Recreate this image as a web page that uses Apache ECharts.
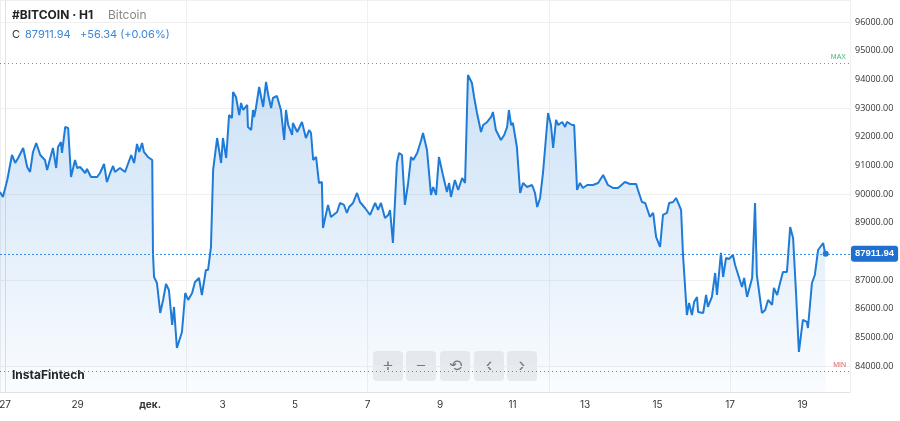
<!DOCTYPE html>
<html><head><meta charset="utf-8">
<script src="https://cdn.jsdelivr.net/npm/echarts@6/dist/echarts.min.js"></script>
<style>html,body{margin:0;padding:0;background:#fff}#c{width:900px;height:421px}</style>
</head><body><div id="c"></div>
<script>
// days since 27 Nov 00:00
const days = [-0.14,-0.06,0.06,0.11,0.19,0.28,0.36,0.50,0.61,0.69,0.77,0.86,0.97,1.10,1.16,1.32,1.41,1.46,1.54,1.57,1.66,1.74,1.82,1.93,1.99,2.07,2.21,2.26,2.37,2.54,2.62,2.73,2.81,2.90,2.98,3.03,3.17,3.31,3.48,3.56,3.64,3.70,3.78,3.83,3.94,4.06,4.08,4.11,4.19,4.28,4.36,4.44,4.52,4.61,4.66,4.74,4.88,4.97,5.05,5.16,5.24,5.35,5.43,5.54,5.60,5.68,5.74,5.85,5.96,6.01,6.10,6.18,6.26,6.29,6.37,6.46,6.51,6.57,6.68,6.70,6.79,6.84,6.87,6.92,7.01,7.12,7.20,7.26,7.34,7.39,7.50,7.61,7.70,7.75,7.81,7.92,7.94,8.06,8.19,8.30,8.39,8.44,8.50,8.58,8.66,8.74,8.77,8.86,8.91,8.99,9.16,9.24,9.35,9.43,9.49,9.60,9.71,9.79,9.93,10.07,10.21,10.29,10.37,10.48,10.57,10.62,10.70,10.81,10.87,10.95,11.03,11.12,11.20,11.26,11.37,11.48,11.53,11.64,11.75,11.81,11.89,11.97,12.08,12.19,12.25,12.30,12.41,12.50,12.61,12.69,12.77,12.88,12.94,13.02,13.05,13.13,13.19,13.30,13.41,13.46,13.54,13.68,13.77,13.85,13.90,13.96,14.01,14.12,14.21,14.29,14.40,14.54,14.62,14.68,14.76,14.84,14.98,15.06,15.12,15.20,15.26,15.37,15.45,15.50,15.64,15.70,15.78,15.86,15.94,16.06,16.22,16.36,16.50,16.63,16.77,16.91,17.10,17.24,17.41,17.46,17.57,17.66,17.79,17.88,17.96,18.07,18.15,18.26,18.32,18.43,18.51,18.57,18.65,18.70,18.81,18.87,18.95,19.01,19.09,19.12,19.26,19.34,19.39,19.50,19.59,19.64,19.75,19.81,19.89,19.97,20.08,20.14,20.19,20.33,20.39,20.47,20.52,20.61,20.69,20.74,20.88,20.97,21.05,21.16,21.21,21.30,21.38,21.46,21.57,21.66,21.74,21.82,21.90,22.01,22.12,22.15,22.26,22.34,22.43,22.57,22.62,22.64];
const prices = [90070,89896,90489,90558,91361,91082,91256,91605,90942,90768,91465,91779,91361,91186,90838,91605,90907,91640,91814,91430,92337,92302,90593,91186,90907,90942,90733,90872,90593,90593,90733,91047,90419,90733,90977,90768,90907,90768,91361,91082,91744,91465,91779,91465,91291,91186,87943,87105,86896,85850,86303,86861,86652,85431,86059,84629,85187,86547,86303,86547,86931,87070,86477,87349,87349,88149,90838,91953,91082,91953,91256,92756,92651,93558,93384,92756,93174,92930,93105,92337,92232,92930,92686,93000,93732,93035,93907,93453,93000,93349,93419,92930,91884,92930,92407,92058,92477,92163,92512,91953,92232,92128,91186,91291,90384,90419,88814,89338,89617,89198,89373,89687,89617,89338,89547,89687,90035,89721,89512,89268,89687,89442,89687,89163,89268,89442,88291,91082,91430,91361,89617,90384,91291,91186,91430,91884,92128,91535,89965,90244,89965,91291,90663,90070,90384,89896,90489,90140,90558,90384,94151,93872,93384,92826,92861,92163,92407,92512,92686,92861,92232,91884,92058,92337,92930,92407,92477,91640,90035,90384,90244,90314,90035,89547,89861,90733,92826,92407,91605,92582,92407,92512,92337,92512,92407,92407,90140,90384,90210,90314,90314,90384,90663,90314,90210,90210,90419,90349,90349,90140,89721,89687,89198,89338,88500,88152,89268,89338,89687,89721,89861,89687,89442,87943,85780,86198,85780,86233,86408,85884,85850,86477,86059,86408,87245,86477,87943,87105,87768,87733,87873,87524,87489,86756,87070,86408,86477,87070,89687,87175,85850,85954,86303,86129,86722,86477,86896,87279,87279,88849,88465,86582,84490,85606,85536,85326,86896,87175,88047,88291,87943,87911.94];
const dayTicks = [0,2,4,6,8,10,12,14,16,18,20,22];
const dayLabels = ['27','29','дек.','3','5','7','9','11','13','15','17','19'];
const priceTicks = [84000,85000,86000,87000,88000,89000,90000,91000,92000,93000,94000,95000,96000];
const lastPrice = 87911.94, maxLine = 94570, minLine = 83826;

const chart = echarts.init(document.getElementById('c'));
const F = 'Inter, "Noto Sans", sans-serif';
const btnX = [373, 406, 440, 474, 507];
const btnTxt = ['+', '−', '⟲', '‹', '›'];
const graphics = [
  {type:'text', left:12, top:9, style:{text:'#BITCOIN · H1', font:'bold 12px '+F, fill:'#222'}},
  {type:'text', left:108, top:9, style:{text:'Bitcoin', font:'12px '+F, fill:'#888'}},
  {type:'text', left:12, top:29, style:{text:'C', font:'11px '+F, fill:'#333'}},
  {type:'text', left:25, top:29, style:{text:'87911.94   +56.34 (+0.06%)', font:'11px '+F, fill:'#3a86d6'}},
  {type:'text', left:12, top:369, style:{text:'InstaFintech', font:'bold 12px '+F, fill:'#222'}}
];
btnX.forEach((x,i)=>{
  graphics.push({type:'rect', shape:{x:x, y:351, width:30, height:30, r:4}, style:{fill:'rgba(235,235,235,0.85)'}});
  graphics.push({type:'text', x:x+15, y:366, style:{text:btnTxt[i], font:(i==2?'16px ':'18px ')+F, fill:'#777', align:'center', verticalAlign:'middle'}});
});
chart.setOption({
  animation:false,
  grid:{left:0, right:50, top:0, bottom:29, outerBoundsMode:'none', containLabel:false},
  xAxis:{type:'value', min:-0.14, max:23.31,
    axisLine:{show:true, lineStyle:{color:'#e2e2e2'}}, axisTick:{show:false},
    axisLabel:{customValues:dayTicks, color:'#333', fontSize:10, fontFamily:F,
      formatter:v=>{const i=dayTicks.indexOf(v); return i<0?'':(i==2?'{b|дек.}':dayLabels[i]);},
      rich:{b:{fontWeight:'bold', fontSize:10, color:'#333'}}},
    splitLine:{show:true, lineStyle:{color:'#f0f0f0'}}},
  yAxis:{type:'value', position:'right', min:83093, max:96767,
    axisLine:{show:true, lineStyle:{color:'#e2e2e2'}}, axisTick:{show:false},
    axisLabel:{customValues:priceTicks, color:'#333', fontSize:9, fontFamily:'"Open Sans", sans-serif', margin:5,
      formatter:v=>v.toFixed(2)},
    splitLine:{show:true, lineStyle:{color:'#f0f0f0'}}},
  graphic:graphics,
  series:[{
    type:'line', data:days.map((d,i)=>[d,prices[i]]), showSymbol:false, smooth:false,
    lineStyle:{color:'#1e7bd8', width:2}, 
    areaStyle:{color:new echarts.graphic.LinearGradient(0,0,0,1,[{offset:0,color:'rgba(30,123,216,0.32)'},{offset:1,color:'rgba(30,123,216,0.03)'}])},
    markPoint:{symbol:'circle', symbolSize:6, itemStyle:{color:'#1e7bd8'}, label:{show:false},
      data:[{coord:[days[days.length-1], lastPrice]}]},
    markLine:{symbol:'none', silent:true, data:[
      {yAxis:lastPrice, lineStyle:{color:'#3a8ee6', type:[2,2], width:1},
        label:{position:'end', formatter:'87911.94', color:'#fff', fontWeight:'bold', fontSize:9.5, backgroundColor:'#1e6fcf', borderRadius:3, padding:[3,4], distance:1}},
      {yAxis:maxLine, lineStyle:{color:'#3cb87a', type:[1,3], width:1},
        label:{position:'insideEndTop', formatter:'MAX', color:'#3cb87a', fontSize:7, distance:[4,2]}},
      {yAxis:minLine, lineStyle:{color:'#e06060', type:[1,3], width:1},
        label:{position:'insideEndTop', formatter:'MIN', color:'#e06060', fontSize:7, distance:[4,2]}}
    ]}
  }]
});
</script></body></html>
